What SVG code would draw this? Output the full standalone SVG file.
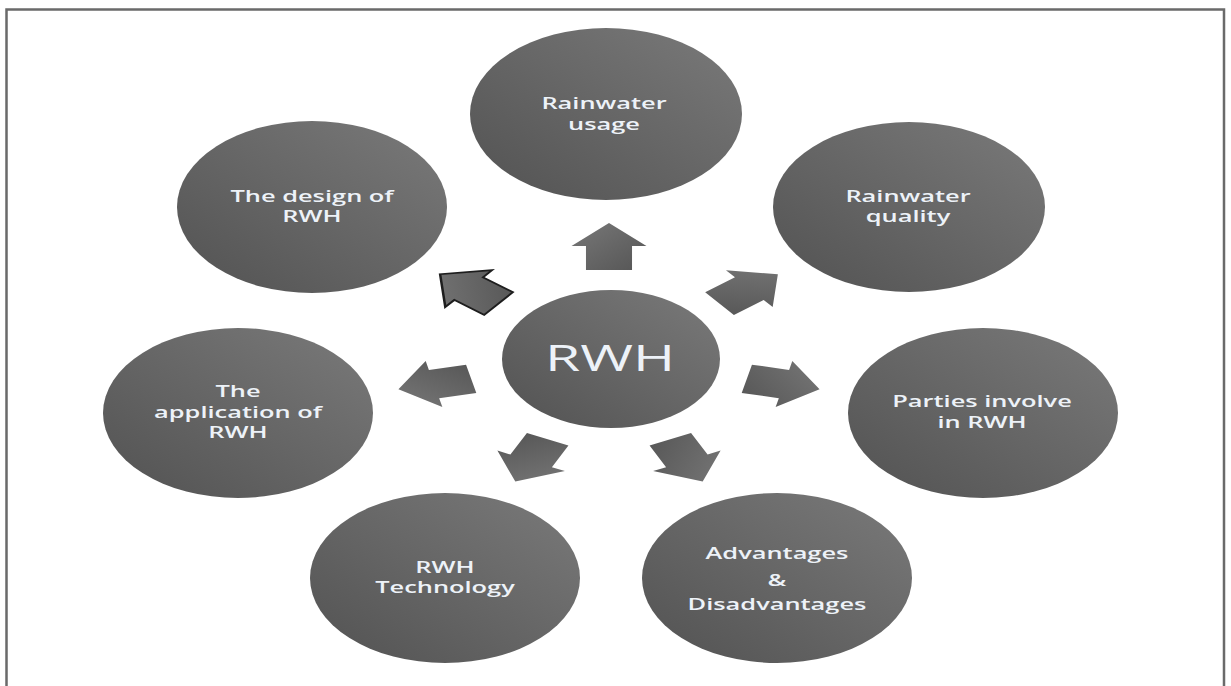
<svg xmlns="http://www.w3.org/2000/svg" width="1231" height="686" viewBox="0 0 1231 686">
<defs>
<linearGradient id="g" x1="0" y1="1" x2="1" y2="0">
<stop offset="0" stop-color="#525252"/>
<stop offset="1" stop-color="#7a7a7a"/>
</linearGradient>
<linearGradient id="ga" x1="0" y1="1" x2="1" y2="0">
<stop offset="0" stop-color="#555555"/>
<stop offset="1" stop-color="#787878"/>
</linearGradient>
<path id="arr" d="M -23.5 -14.5 L 0.5 -14.5 L 0.5 -23.6 L 23.5 0 L 0.5 23.6 L 0.5 14.5 L -23.5 14.5 Z"/>
</defs>
<style>
.node{fill:url(#g);}
.arrow{fill:url(#ga);}
.outl{stroke:#1e1e1e;stroke-width:1.6;vector-effect:non-scaling-stroke;stroke-linejoin:miter;}
.lbl{font-family:"Open Sans","DejaVu Sans",sans-serif;font-size:16px;font-weight:600;fill:#edf2f8;text-anchor:middle;}
.big{font-family:"Open Sans","DejaVu Sans",sans-serif;font-size:36px;font-weight:400;fill:#edf2f8;text-anchor:middle;}
</style>
<rect width="1231" height="686" fill="#ffffff"/>
<path d="M 6.5 686 L 6.5 9.5 L 1224 9.5 L 1224 686" fill="none" stroke="#6a6a6a" stroke-width="2.5"/>

<g id="connectors">
<use href="#arr" class="arrow" transform="translate(609,246.5) scale(1.588,1) rotate(-90)"/>
<use href="#arr" class="arrow" transform="translate(748.7,288.9) scale(1.588,1) rotate(-38.57)"/>
<use href="#arr" class="arrow" transform="translate(783.2,384) scale(1.588,1) rotate(12.86)"/>
<use href="#arr" class="arrow" transform="translate(686.5,460.4) scale(1.588,1) rotate(64.29)"/>
<use href="#arr" class="arrow" transform="translate(531.5,460.4) scale(1.588,1) rotate(115.71)"/>
<use href="#arr" class="arrow" transform="translate(434.8,384) scale(1.588,1) rotate(167.14)"/>
<use href="#arr" class="arrow outl" transform="translate(469.3,288.9) scale(1.588,1) rotate(218.57)"/>
</g>

<g id="node-center">
<ellipse class="node" cx="611" cy="359" rx="109" ry="69"/>
<text class="big" transform="matrix(1.588 0 0 1 610 371)" x="0" y="0">RWH</text>
</g>

<g id="node-usage">
<ellipse class="node" cx="606" cy="114" rx="136" ry="86"/>
<text class="lbl" transform="matrix(1.588 0 0 1 604 0)"><tspan x="0" y="109">Rainwater</tspan><tspan x="0" y="130">usage</tspan></text>
</g>

<g id="node-quality">
<ellipse class="node" cx="909" cy="207" rx="136" ry="85"/>
<text class="lbl" transform="matrix(1.588 0 0 1 908 0)"><tspan x="0" y="202">Rainwater</tspan><tspan x="0" y="222">quality</tspan></text>
</g>

<g id="node-parties">
<ellipse class="node" cx="983" cy="413" rx="135" ry="85"/>
<text class="lbl" transform="matrix(1.588 0 0 1 982 0)"><tspan x="0" y="407">Parties involve</tspan><tspan x="0" y="428">in RWH</tspan></text>
</g>

<g id="node-advantages">
<ellipse class="node" cx="777" cy="578" rx="135" ry="85"/>
<text class="lbl" transform="matrix(1.588 0 0 1 777 0)"><tspan x="0" y="559">Advantages</tspan><tspan x="0" y="586">&amp;</tspan><tspan x="0" y="610">Disadvantages</tspan></text>
</g>

<g id="node-technology">
<ellipse class="node" cx="445" cy="578" rx="135" ry="85"/>
<text class="lbl" transform="matrix(1.588 0 0 1 445 0)"><tspan x="0" y="573">RWH</tspan><tspan x="0" y="593">Technology</tspan></text>
</g>

<g id="node-application">
<ellipse class="node" cx="238" cy="413" rx="135" ry="85"/>
<text class="lbl" transform="matrix(1.588 0 0 1 238 0)"><tspan x="0" y="397">The</tspan><tspan x="0" y="418">application of</tspan><tspan x="0" y="438">RWH</tspan></text>
</g>

<g id="node-design">
<ellipse class="node" cx="312" cy="207" rx="135" ry="86"/>
<text class="lbl" transform="matrix(1.588 0 0 1 312 0)"><tspan x="0" y="202">The design of</tspan><tspan x="0" y="222">RWH</tspan></text>
</g>
</svg>
